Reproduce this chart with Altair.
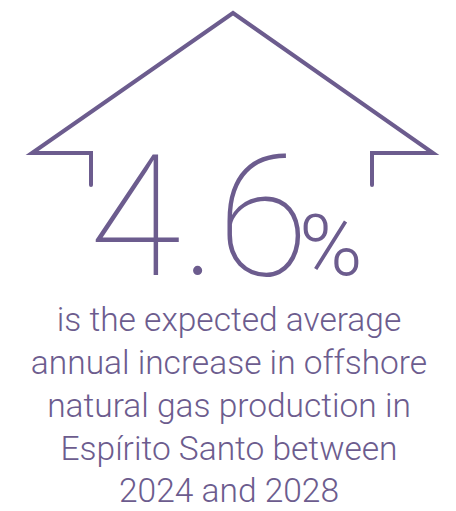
import altair as alt
import pandas as pd

COLOR = "#6c5c8e"

# House outline (decorative arrow) vertices, in picture pixel coordinates
house_x = [91, 91, 32, 233, 433, 372, 372]
house_y = [185, 153, 153, 13, 153, 153, 185]

big_value = ["4.6"]
pct_sign = ["%"]
caption_lines = [
    "is the expected average",
    "annual increase in offshore",
    "natural gas production in",
    "Espírito Santo between",
    "2024 and 2028",
]
caption_baselines = [331, 374, 417, 460, 502]

house = pd.DataFrame({"x": house_x, "y": house_y, "o": list(range(len(house_x)))})
big = pd.DataFrame({"x": [309], "y": [275], "t": big_value})
pct = pd.DataFrame({"x": [299], "y": [275], "t": pct_sign})
cap = pd.DataFrame({"x": [229] * len(caption_lines), "y": caption_baselines, "t": caption_lines})

xs = alt.Scale(domain=[8, 448])
ys = alt.Scale(domain=[8, 503], reverse=True)
X = lambda: alt.X("x:Q", scale=xs, axis=None)
Y = lambda: alt.Y("y:Q", scale=ys, axis=None)

line = alt.Chart(house).mark_line(
    color=COLOR, strokeWidth=4, strokeCap="round", strokeJoin="miter"
).encode(x=X(), y=Y(), order="o:O")

big_t = alt.Chart(big).mark_text(
    font="Roboto", fontWeight=100, fontSize=168, color=COLOR,
    align="right", baseline="alphabetic"
).encode(x=X(), y=Y(), text="t:N")

pct_t = alt.Chart(pct).mark_text(
    font="Roboto", fontWeight=300, fontSize=86, color=COLOR,
    align="left", baseline="alphabetic"
).encode(x=X(), y=Y(), text="t:N")

cap_t = alt.Chart(cap).mark_text(
    font="Roboto", fontWeight=300, fontSize=33.5, color=COLOR,
    align="center", baseline="alphabetic"
).encode(x=X(), y=Y(), text="t:N")

chart = alt.layer(line, big_t, pct_t, cap_t).properties(
    width=440, height=495, autosize=alt.AutoSizeParams(type="none"), padding=0
).configure_view(stroke="transparent", strokeWidth=0)

chart.save("out.html", embed_options={"renderer": "svg", "actions": False})
